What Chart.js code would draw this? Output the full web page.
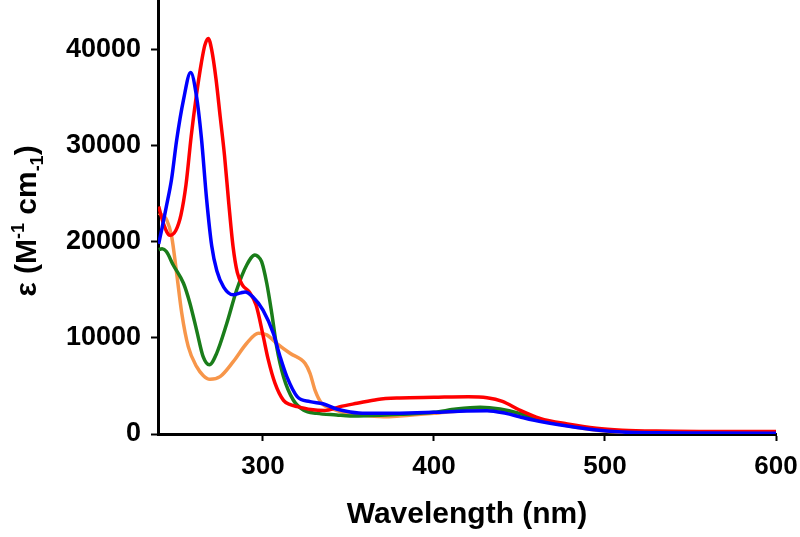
<!DOCTYPE html>
<html><head><meta charset="utf-8">
<script src="https://cdn.jsdelivr.net/npm/chart.js@4/dist/chart.umd.min.js"></script>
<style>html,body{margin:0;padding:0;background:#fff}</style>
</head><body>
<canvas id="c" width="800" height="537"></canvas>
<script>
// ---- data (wavelength in nm, epsilon in M^-1 cm^-1) ----
const xTickValues = [300, 400, 500, 600];
const yTickValues = [0, 10000, 20000, 30000, 40000];

const blueWl  = [239, 241, 243.5, 246.5, 249.5, 253.5, 257.7, 261, 264, 267, 270, 273, 277, 282.5, 287, 289.5, 294, 300, 306, 310, 314, 320, 327.5, 335, 343, 351, 360, 370, 380, 400, 419, 431, 442, 450, 458, 478, 495, 510, 530, 560, 600];
const blueEps = [19800, 21500, 23700, 26500, 30600, 34800, 37650, 35300, 30800, 24500, 19600, 17000, 15300, 14500, 14700, 14800, 14300, 12900, 10500, 8050, 5950, 3900, 3370, 3150, 2600, 2300, 2150, 2150, 2170, 2260, 2400, 2430, 2150, 1800, 1460, 830, 420, 200, 120, 100, 80];

const redWl  = [239, 242, 245.5, 249, 252, 255, 258, 261, 264, 266, 268, 270, 272.5, 275, 277.5, 280, 282.5, 285, 288, 292, 296, 300, 303, 307, 312, 316, 320, 328, 336, 345, 355, 367, 380, 400, 420, 431, 440, 450, 462, 478, 495, 510, 530, 560, 600];
const redEps = [23700, 21800, 20700, 21200, 22800, 26000, 31000, 35200, 38700, 40500, 41200, 40000, 37000, 33000, 29000, 24000, 19500, 16800, 15500, 14800, 13400, 10300, 7800, 5300, 3500, 3050, 2850, 2550, 2450, 2850, 3200, 3600, 3750, 3820, 3880, 3780, 3400, 2500, 1630, 1040, 590, 400, 300, 260, 250];

const greenWl  = [239, 241, 243.5, 247.5, 253.5, 257.3, 261.2, 265, 268.6, 272.9, 278.8, 284.6, 290.5, 295.3, 297, 299.2, 302.2, 305.1, 308, 312, 317.7, 323.6, 331.4, 343, 351, 360, 380, 400, 413, 427, 438.6, 450, 462, 478, 495, 510, 530, 560, 600];
const greenEps = [19200, 19300, 19000, 17600, 15700, 13600, 10800, 8050, 7200, 8400, 11500, 15000, 17600, 18650, 18500, 17950, 15700, 12600, 9100, 5970, 3540, 2500, 2150, 1980, 1880, 1900, 2050, 2260, 2600, 2780, 2600, 2150, 1460, 900, 520, 280, 150, 120, 100];

const orangeWl  = [239, 241, 243.7, 246.6, 249.5, 252.5, 256.3, 261.2, 265, 269, 274.9, 282.6, 290.5, 297.3, 302.2, 308, 315.8, 324.6, 327.5, 330.4, 334.3, 341, 348, 356.7, 370.4, 380, 400, 415, 430, 442, 452, 462, 478, 495, 510, 530, 560, 600];
const orangeEps = [23000, 22800, 22300, 20560, 16740, 12580, 9100, 7010, 6100, 5700, 5970, 7530, 9450, 10490, 10320, 9450, 8410, 7360, 6320, 4580, 3200, 2600, 2200, 1980, 1800, 1880, 2150, 2400, 2550, 2400, 2000, 1500, 850, 400, 180, 120, 100, 80];

const toPts = (xs, ys) => xs.map((x, i) => ({x: x, y: ys[i]}));

const FONT = '"Liberation Sans", Arial, Helvetica, sans-serif';

const yTitlePlugin = {
  id: 'yTitle',
  afterDraw(chart) {
    const ctx = chart.ctx;
    const a = chart.chartArea;
    ctx.save();
    ctx.translate(25, (a.top + a.bottom) / 2 + 4);
    ctx.rotate(-Math.PI / 2);
    ctx.fillStyle = '#000';
    ctx.textBaseline = 'alphabetic';
    ctx.textAlign = 'left';
    const big = 'bold 30px ' + FONT;
    const small = 'bold 18px ' + FONT;
    const base = 10.7;
    const parts = [['\u03b5 (M', big, base], ['-1', small, base - 12], [' cm', big, base], ['-1', small, base + 7], [')', big, base]];
    let total = 0;
    parts.forEach(p => { ctx.font = p[1]; total += ctx.measureText(p[0]).width; });
    let x = -total / 2;
    parts.forEach(p => { ctx.font = p[1]; ctx.fillText(p[0], x, p[2]); x += ctx.measureText(p[0]).width; });
    ctx.restore();
  }
};

const ds = (label, pts, color) => ({
  label: label, data: pts, borderColor: color, backgroundColor: color,
  borderWidth: 3.5, pointRadius: 0, fill: false, cubicInterpolationMode: 'monotone'
});

new Chart(document.getElementById('c'), {
  type: 'line',
  data: {
    datasets: [
      ds('blue', toPts(blueWl, blueEps), '#0000ff'),
      ds('red', toPts(redWl, redEps), '#ff0000'),
      ds('green', toPts(greenWl, greenEps), '#1a7d1a'),
      ds('orange', toPts(orangeWl, orangeEps), '#f7964a')
    ]
  },
  options: {
    responsive: false,
    animation: false,
    layout: {padding: {left: 0, right: 24, top: 0, bottom: 0}},
    plugins: {legend: {display: false}, tooltip: {enabled: false}},
    scales: {
      x: {
        type: 'linear', min: 238.6, max: 600,
        afterBuildTicks: s => { s.ticks = xTickValues.map(v => ({value: v})); },
        afterFit: s => { s.height = 103; s.paddingLeft = 0; s.paddingRight = 0; },
        grid: {drawOnChartArea: false, drawTicks: true, tickLength: 7, tickColor: '#000', tickWidth: 2},
        border: {display: true, color: '#000', width: 3},
        ticks: {color: '#000', padding: 10, maxRotation: 0, font: {family: FONT, size: 26, weight: 'bold'}, callback: v => String(v)},
        title: {display: true, text: 'Wavelength (nm)', color: '#000', font: {family: FONT, size: 30, weight: 'bold'}, padding: {top: 0, bottom: 4}}
      },
      y: {
        type: 'linear', min: 0, max: 45200,
        afterBuildTicks: s => { s.ticks = yTickValues.map(v => ({value: v})); },
        afterFit: s => { s.width = 158; s.paddingTop = 0; s.paddingBottom = 0; },
        grid: {drawOnChartArea: false, drawTicks: true, tickLength: 7, tickColor: '#000', tickWidth: 2},
        border: {display: true, color: '#000', width: 3},
        ticks: {color: '#000', padding: 10, font: {family: FONT, size: 27, weight: 'bold'}, callback: v => String(v)}
      }
    }
  },
  plugins: [yTitlePlugin]
});
</script>
</body></html>
